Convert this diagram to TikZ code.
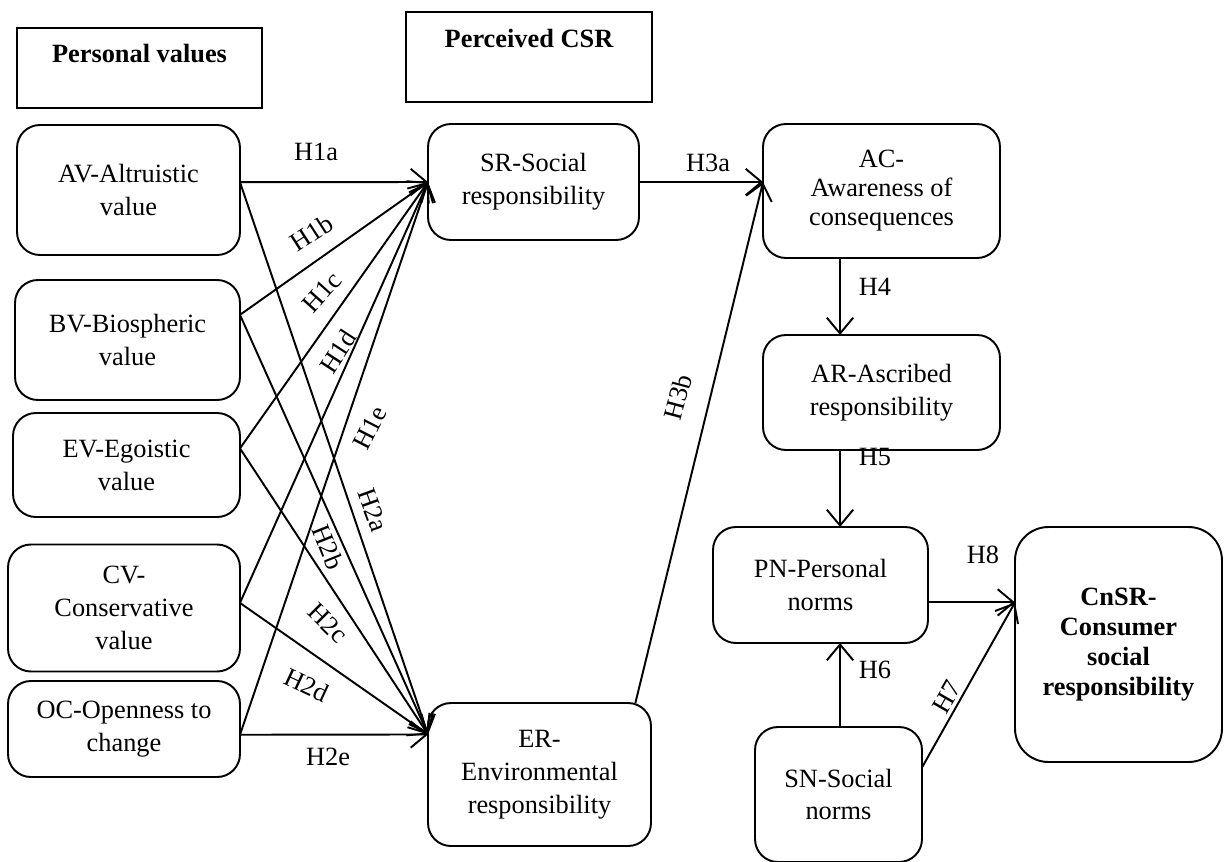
\documentclass[tikz,border=0pt]{standalone}
\usepackage{fontspec}
\setmainfont{Liberation Serif}
\usetikzlibrary{arrows.meta}

\begin{document}
\begin{tikzpicture}[x=0.02cm, y=-0.02cm,
    every node/.style={font=\fontsize{15}{18.7}\selectfont},
    construct/.style={draw, line width=1.1pt, rounded corners=13pt, align=center,
      inner sep=0pt, outer sep=0pt},
    header/.style={draw, line width=1pt, inner sep=0pt, outer sep=0pt},
    title/.style={font=\fontsize{15}{18.7}\selectfont\bfseries},
    link/.style={line width=1.1pt, -{Straight Barb[length=9pt,width=15pt,line width=1.1pt]}},
    hyp/.style={inner sep=1pt}]

    \useasboundingbox (0,0) rectangle (1228,862);

    % headers
    \node[header, minimum width=4.9cm, minimum height=1.6cm] (PV) at (139.5,68) {};
    \node[title] (PV-title) at (139.5,54) {Personal values};
    \node[header, minimum width=4.92cm, minimum height=1.8cm] (PC) at (529,57) {};
    \node[title] (PC-title) at (529,38) {Perceived CSR};

    % personal values
    \node[construct, minimum width=4.46cm, minimum height=2.6cm]  (AV) at (128.5,190) {AV-Altruistic\\value};
    \node[construct, minimum width=4.5cm,  minimum height=2.4cm]  (BV) at (127.5,340) {BV-Biospheric\\value};
    \node[construct, minimum width=4.54cm, minimum height=2.08cm] (EV) at (126.5,465) {EV-Egoistic\\value};
    \node[construct, minimum width=4.64cm, minimum height=2.54cm] (CV) at (124,608)   {CV-\\Conservative\\value};
    \node[construct, minimum width=4.64cm, minimum height=1.92cm] (OC) at (124,729)   {OC-Openness to\\change};

    % perceived CSR
    \node[construct, minimum width=4.22cm, minimum height=2.32cm] (SR) at (533.5,182) {SR-Social\\responsibility};
    \node[construct, minimum width=4.46cm, minimum height=2.86cm] (ER) at (539.5,774.5) {ER-\\Environmental\\responsibility};

    % norm activation chain
    \node[construct, minimum width=4.74cm, minimum height=2.68cm,
      font=\fontsize{15}{16.5}\selectfont] (AC) at (881.5,191) {AC-\\Awareness of\\consequences};
    \node[construct, minimum width=4.74cm, minimum height=2.3cm]  (AR) at (881.5,392.5) {AR-Ascribed\\responsibility};
    \node[construct, minimum width=4.3cm,  minimum height=2.32cm] (PN) at (820.5,585)   {PN-Personal\\norms};
    \node[construct, minimum width=3.34cm, minimum height=2.7cm]  (SN) at (838.5,794.5) {SN-Social\\norms};
    \node[construct, rounded corners=19pt, minimum width=4.14cm, minimum height=4.7cm,
      font=\fontsize{15}{17}\selectfont\bfseries] (CnSR) at (1118.5,644.5)
      {CnSR-\\Consumer\\social\\responsibility};

    % end points on the box sides
    \path (AV.north east) -- (AV.south east) coordinate[pos=0.44] (AV-out);
    \path (BV.north east) -- (BV.south east) coordinate[pos=0.29] (BV-out);
    \path (EV.north east) -- (EV.south east) coordinate[pos=0.34] (EV-out);
    \path (CV.north east) -- (CV.south east) coordinate[pos=0.46] (CV-out);
    \path (OC.north east) -- (OC.south east) coordinate[pos=0.56] (OC-out);
    \path (ER.north west) -- (ER.south west) coordinate[pos=0.22] (ER-in);
    \path (ER.north west) -- (ER.north east) coordinate[pos=0.93] (ER-out);
    \path (AC.south west) -- (AC.south east) coordinate[pos=0.325] (AC-out);
    \path (PN.north east) -- (PN.south east) coordinate[pos=0.65] (PN-out);
    \path (SN.north east) -- (SN.south east) coordinate[pos=0.3] (SN-out);
    \coordinate (AC-in) at (SR.east -| AC.west);
    \coordinate (CnSR-in) at (PN-out -| CnSR.west);

    \foreach \v in {AV,BV,EV,CV,OC} {
      \draw[link] (\v-out) -- (SR.west);
      \draw[link] (\v-out) -- (ER-in);
    }

    \draw[link] (SR.east) -- (AC-in);
    \draw[link] (ER-out) -- (AC-in);
    \draw[link] (AC-out) -- (AC-out |- AR.north);
    \draw[link] (AC-out |- AR.south) -- (AC-out |- PN.north);
    \draw[link] (AC-out |- SN.north) -- (AC-out |- PN.south);
    \draw[link] (PN-out) -- (CnSR-in);
    \draw[link] (SN-out) -- (CnSR-in);

    % hypotheses
    \node[hyp] (H1a) at (316,152) {H1a};
    \node[hyp, rotate=33] (H1b) at (312,233) {H1b};
    \node[hyp, rotate=48] (H1c) at (322,292) {H1c};
    \node[hyp, rotate=57] (H1d) at (338,352) {H1d};
    \node[hyp, rotate=63] (H1e) at (370,428) {H1e};
    \node[hyp, rotate=-70] (H2a) at (373,510) {H2a};
    \node[hyp, rotate=-68] (H2b) at (328,547) {H2b};
    \node[hyp, rotate=-45] (H2c) at (328,623) {H2c};
    \node[hyp, rotate=-25] (H2d) at (307,685) {H2d};
    \node[hyp] (H2e) at (328,757) {H2e};
    \node[hyp] (H3a) at (708,163) {H3a};
    \node[hyp, rotate=75] (H3b) at (678,397) {H3b};
    \node[hyp] (H4) at (875,287) {H4};
    \node[hyp] (H5) at (875,457) {H5};
    \node[hyp] (H6) at (875,670) {H6};
    \node[hyp, rotate=60] (H7) at (947,697) {H7};
    \node[hyp] (H8) at (983,555) {H8};
\end{tikzpicture}
\end{document}
